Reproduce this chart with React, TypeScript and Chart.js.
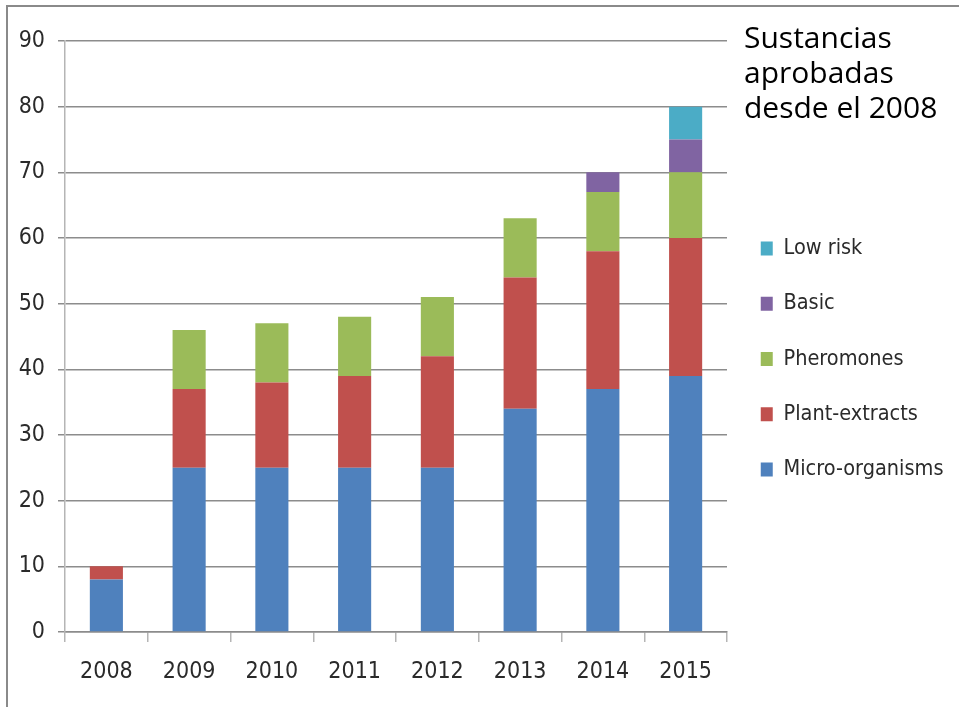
import React, { useEffect, useRef } from "react";
import { Chart, registerables } from "chart.js";

Chart.register(...registerables);

const years = ["2008", "2009", "2010", "2011", "2012", "2013", "2014", "2015"];
const microOrganisms = [8, 25, 25, 25, 25, 34, 37, 39];
const plantExtracts = [2, 12, 13, 14, 17, 20, 21, 21];
const pheromones = [null, 9, 9, 9, 9, 9, 9, 10];
const basic = [null, null, null, null, null, null, 3, 5];
const lowRisk = [null, null, null, null, null, null, null, 5];
const seriesNames = ["Micro-organisms", "Plant-extracts", "Pheromones", "Basic", "Low risk"];
const yMin = 0;
const yMax = 90;
const yStep = 10;
const titleLines = ["Sustancias", "aprobadas", "desde el 2008"];

const FONT = "'Liberation Sans Narrow', 'DejaVu Sans Condensed', 'Liberation Sans', sans-serif";
const TICK_SIZE = 23;
const LEGEND_SIZE = 21.5;
const LEGEND_PAD = 33.75;
const LEGEND_BOX = 12;
const PLOT_RIGHT = 727;
const W = 959;
const H = 707;

export default function App() {
  const ref = useRef<HTMLCanvasElement | null>(null);

  useEffect(() => {
    if (!ref.current) return;
    const ctx = ref.current.getContext("2d")!;
    ctx.font = `${LEGEND_SIZE}px ${FONT}`;
    const maxText = Math.max(...seriesNames.map((n) => ctx.measureText(n).width));
    // Chart.js vertical legend width = padding + box + fontSize/2 + text + 10
    const legendWidth = LEGEND_PAD + LEGEND_BOX + LEGEND_SIZE / 2 + maxText + 10;
    const padRight = Math.max(0, W - PLOT_RIGHT - legendWidth);

    const chart = new Chart(ref.current, {
      type: "bar",
      data: {
        labels: years,
        datasets: [
          { label: seriesNames[0], data: microOrganisms, backgroundColor: "#4F81BD" },
          { label: seriesNames[1], data: plantExtracts, backgroundColor: "#C0504D" },
          { label: seriesNames[2], data: pheromones, backgroundColor: "#9BBB59" },
          { label: seriesNames[3], data: basic, backgroundColor: "#8064A2" },
          { label: seriesNames[4], data: lowRisk, backgroundColor: "#4BACC6" },
        ],
      },
      options: {
        responsive: false,
        animation: false,
        events: [],
        layout: { padding: { left: 0, top: 41, right: padRight, bottom: 0 } },
        datasets: { bar: { barPercentage: 0.4, categoryPercentage: 1 } },
        scales: {
          x: {
            stacked: true,
            offset: true,
            grid: {
              display: true,
              drawOnChartArea: false,
              drawTicks: true,
              tickLength: 10,
              offset: true,
              color: "#b5b5b5",
              lineWidth: 1.5,
            },
            border: { display: true, color: "#8c8c8c", width: 1.5 },
            ticks: {
              color: "#2a2a2a",
              font: { family: FONT, size: TICK_SIZE },
              padding: 16,
              maxRotation: 0,
            },
            afterFit: (s: any) => {
              s.height = 75;
            },
          },
          y: {
            stacked: true,
            min: yMin,
            max: yMax,
            ticks: {
              stepSize: yStep,
              color: "#2a2a2a",
              font: { family: FONT, size: TICK_SIZE },
              padding: 13,
            },
            grid: {
              color: "#8c8c8c",
              lineWidth: 1.5,
              drawTicks: true,
              tickLength: 7,
            },
            border: { display: true, color: "#b5b5b5", width: 1.5 },
            afterFit: (s: any) => {
              s.width = 65;
            },
          },
        },
        plugins: {
          tooltip: { enabled: false },
          title: { display: false },
          legend: {
            display: true,
            position: "right",
            fullSize: false,
            reverse: true,
            title: {
              display: true,
              text: " ",
              font: { size: 1, lineHeight: 1 },
              padding: { top: 44, bottom: 0 },
            },
            labels: {
              boxWidth: LEGEND_BOX,
              boxHeight: 14,
              padding: LEGEND_PAD,
              color: "#2a2a2a",
              font: { family: FONT, size: LEGEND_SIZE },
            },
          },
        },
      },
    });
    return () => chart.destroy();
  }, []);

  return (
    <div style={{ position: "absolute", left: 0, top: 0, width: W, height: H, background: "#fff", overflow: "hidden" }}>
      <div
        style={{
          position: "absolute",
          left: 6,
          top: 5,
          width: 960,
          height: 710,
          borderTop: "2px solid #8a8a8a",
          borderLeft: "2px solid #8a8a8a",
        }}
      />
      <canvas ref={ref} width={W} height={H} style={{ position: "absolute", left: 0, top: 0 }} />
      <div
        style={{
          position: "absolute",
          left: 744,
          top: 19,
          fontFamily: "'Open Sans', 'Noto Sans', sans-serif",
          fontSize: 30,
          lineHeight: "35px",
          color: "#000",
          whiteSpace: "nowrap",
        }}
      >
        {titleLines.map((t) => (
          <div key={t}>{t}</div>
        ))}
      </div>
    </div>
  );
}
